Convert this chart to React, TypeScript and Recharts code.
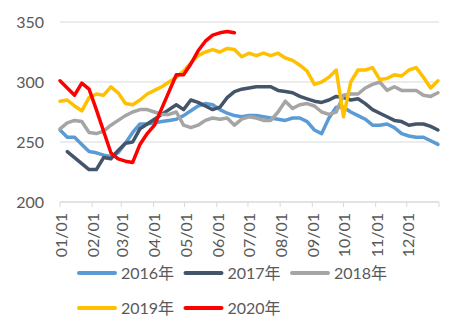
import React from 'react';
import { LineChart, Line, XAxis, YAxis, CartesianGrid, Legend } from 'recharts';

const days = [0, 7, 14, 21, 28, 35, 42, 49, 56, 63, 70, 77, 84, 91, 98, 105, 112, 119, 126, 133, 140, 147, 154, 161, 168, 175, 182, 189, 196, 203, 210, 217, 224, 231, 238, 245, 252, 259, 266, 273, 280, 287, 294, 301, 308, 315, 322, 329, 336, 343, 350, 357, 364];

const s2016 = [260, 254, 254, 248, 242, 241, 239, 238, 241, 249, 258, 265, 265, 266, 267, 268, 269, 272, 276, 280, 282, 281, 277, 274, 272, 271, 272, 272, 271, 270, 269, 268, 270, 270, 267, 260, 257, 270, 279, 279, 275, 272, 269, 264, 264, 265, 262, 257, 255, 254, 254, 251, 248];
const s2017 = [null, 242, 237, 232, 227, 227, 237, 236, 243, 249, 250, 261, 265, 269, 273, 277, 281, 277, 285, 283, 280, 277, 279, 287, 292, 294, 295, 296, 296, 296, 293, 292, 291, 288, 286, 284, 283, 285, 288, 287, 285, 286, 282, 277, 274, 271, 268, 267, 264, 265, 265, 263, 260];
const s2018 = [261, 266, 268, 267, 258, 257, 259, 264, 268, 272, 275, 277, 277, 275, 273, 273, 275, 264, 262, 264, 268, 270, 269, 270, 264, 269, 271, 270, 268, 268, 275, 284, 278, 281, 282, 280, 275, 273, 275, 289, 290, 290, 295, 298, 300, 293, 296, 293, 293, 293, 289, 288, 291];
const s2019 = [284, 285, 280, 276, 287, 290, 289, 296, 291, 282, 281, 285, 290, 293, 296, 300, 304, 309, 316, 322, 325, 327, 325, 328, 327, 321, 324, 322, 324, 322, 324, 320, 318, 314, 309, 298, 300, 304, 310, 271, 300, 310, 310, 312, 302, 303, 306, 305, 310, 312, 304, 295, 301];
const s2020 = [301, 295, 289, 299, 294, 277, 259, 241, 236, 234, 233, 248, 257, 264, 278, 292, 306, 306, 315, 326, 334, 339, 341, 342, 341];

const monthTicks = [0, 31, 59, 90, 120, 151, 181, 212, 243, 273, 304, 334, 365];
const monthLabels = ['01/01', '02/01', '03/01', '04/01', '05/01', '06/01', '07/01', '08/01', '09/01', '10/01', '11/01', '12/01', ''];
const yTicks = [200, 250, 300, 350];

const seriesKeys = ['s2016', 's2017', 's2018', 's2019', 's2020'];
const seriesNames = ['2016年', '2017年', '2018年', '2019年', '2020年'];
const seriesColors = ['#5B9BD5', '#44546A', '#A5A5A5', '#FFC000', '#FF0000'];
const seriesValues = [s2016, s2017, s2018, s2019, s2020];

const data = days.map((d, i) => {
  const row: any = { day: d };
  seriesKeys.forEach((k, j) => {
    const v = seriesValues[j][i];
    row[k] = v === undefined ? null : v;
  });
  return row;
});

const FONT = "Lato, 'Noto Sans CJK SC', sans-serif";
const TEXT = '#595959';

const XTick = (props: any) => {
  const { x, payload } = props;
  const idx = monthTicks.indexOf(payload.value);
  const label = idx >= 0 ? monthLabels[idx] : '';
  return (
    <g transform={`translate(${x + 7},213)`}>
      <text transform="rotate(-90)" textAnchor="end" fill={TEXT} fontSize={16} fontFamily={FONT}>
        {label}
      </text>
    </g>
  );
};

const LegendContent = () => {
  const rows = [[0, 1, 2], [3, 4]];
  return (
    <svg width={439} height={74} style={{ display: 'block' }}>
      {rows.map((row, r) =>
        row.map((si, c) => {
          const x0 = 77 + c * 106.5;
          const cy = 11 + r * 35;
          return (
            <g key={si}>
              <line x1={x0 + 2} y1={cy} x2={x0 + 38} y2={cy} stroke={seriesColors[si]} strokeWidth={4} strokeLinecap="round" />
              <text x={x0 + 44} y={cy + 6} fill={TEXT} fontSize={16} fontFamily={FONT}>
                {seriesNames[si]}
              </text>
            </g>
          );
        })
      )}
    </svg>
  );
};

export default function App() {
  return (
    <div style={{ position: 'absolute', left: 0, top: 0, background: '#fff' }}>
      <LineChart width={461} height={336} data={data} margin={{ top: 22, right: 22, left: 0, bottom: 0 }}>
        <CartesianGrid horizontal={true} vertical={false} stroke="#D9D9D9" strokeWidth={1} />
        <XAxis
          dataKey="day"
          type="number"
          domain={[0, 365]}
          ticks={monthTicks}
          interval={0}
          height={60}
          axisLine={{ stroke: '#D9D9D9' }}
          tickLine={{ stroke: '#D9D9D9' }}
          tickSize={5}
          tick={<XTick />}
        />
        <YAxis
          type="number"
          domain={[200, 350]}
          ticks={yTicks}
          width={60}
          axisLine={false}
          tickLine={false}
          tickSize={0}
          tickMargin={16}
          tick={{ fill: TEXT, fontSize: 16, fontFamily: FONT }}
        />
        <Legend verticalAlign="bottom" height={74} content={<LegendContent />} />
        {seriesKeys.map((k, j) => (
          <Line
            key={k}
            dataKey={k}
            name={seriesNames[j]}
            type="linear"
            stroke={seriesColors[j]}
            strokeWidth={3.5}
            dot={false}
            activeDot={false}
            connectNulls={false}
            isAnimationActive={false}
            strokeLinejoin="round"
            strokeLinecap="round"
          />
        ))}
      </LineChart>
    </div>
  );
}
